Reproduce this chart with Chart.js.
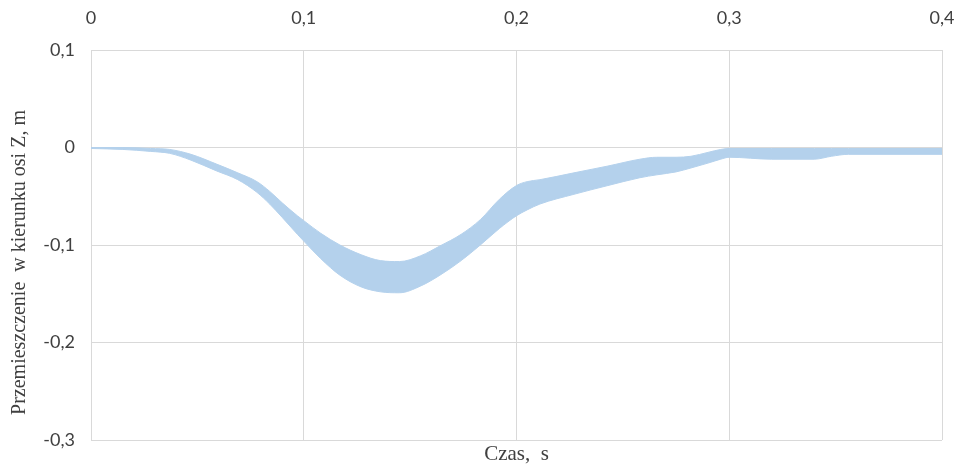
<!DOCTYPE html>
<html>
<head>
<meta charset="utf-8">
<script src="https://cdn.jsdelivr.net/npm/chart.js@4/dist/chart.umd.min.js"></script>
<style>
  html, body { margin: 0; padding: 0; background: #fff; }
  #wrap { width: 958px; height: 467px; }
</style>
</head>
<body>
<div id="wrap"><canvas id="c" width="958" height="467"></canvas></div>
<script>
// Czas, s
const times = [0, 0.015, 0.028, 0.037, 0.047, 0.059, 0.069, 0.078, 0.084, 0.09, 0.097, 0.1, 0.108, 0.117, 0.127, 0.136, 0.145, 0.155, 0.164, 0.174, 0.183, 0.192, 0.2, 0.205, 0.211, 0.227, 0.243, 0.258, 0.266, 0.275, 0.282, 0.29, 0.296, 0.3, 0.32, 0.34, 0.348, 0.356, 0.4];
// górna obwiednia przemieszczenia, m
const upperZ = [0, 0, -0.001, -0.002, -0.007, -0.017, -0.026, -0.035, -0.045, -0.057, -0.070, -0.075, -0.088, -0.100, -0.110, -0.116, -0.117, -0.111, -0.101, -0.089, -0.074, -0.053, -0.039, -0.035, -0.033, -0.026, -0.019, -0.012, -0.010, -0.010, -0.009, -0.005, -0.002, -0.001, -0.001, -0.001, -0.001, -0.001, -0.001];
// dolna obwiednia przemieszczenia, m
const lowerZ = [-0.001, -0.002, -0.004, -0.006, -0.013, -0.024, -0.033, -0.046, -0.058, -0.072, -0.089, -0.096, -0.114, -0.131, -0.143, -0.148, -0.149, -0.142, -0.131, -0.116, -0.100, -0.083, -0.070, -0.064, -0.058, -0.048, -0.039, -0.031, -0.028, -0.025, -0.021, -0.016, -0.012, -0.010, -0.012, -0.012, -0.009, -0.007, -0.007];
const xTicks = [0, 0.1, 0.2, 0.3, 0.4];
const yTicks = [0.1, 0, -0.1, -0.2, -0.3];

const toPts = (ys) => times.map((t, i) => ({ x: t, y: ys[i] }));
const fmt = (v) => String(Math.round(v * 10) / 10).replace('.', ',');

const bandColor = '#b4d1ec';
const gridColor = '#d9d9d9';
const tickFont = { family: 'Lato, "Open Sans", sans-serif', size: 18 };
const titleFont = { family: '"Liberation Serif", "Times New Roman", serif', size: 20 };

new Chart(document.getElementById('c'), {
  type: 'line',
  data: {
    datasets: [
      {
        data: toPts(lowerZ),
        borderColor: bandColor,
        borderWidth: 1,
        pointRadius: 0,
        cubicInterpolationMode: 'monotone',
        fill: false
      },
      {
        data: toPts(upperZ),
        borderColor: bandColor,
        borderWidth: 1,
        backgroundColor: bandColor,
        pointRadius: 0,
        cubicInterpolationMode: 'monotone',
        fill: '-1'
      }
    ]
  },
  options: {
    responsive: false,
    animation: false,
    layout: { padding: { left: 0, right: 16, top: 0, bottom: 0 } },
    plugins: { legend: { display: false }, tooltip: { enabled: false } },
    scales: {
      x: {
        type: 'linear',
        position: 'top',
        min: 0, max: 0.4,
        afterBuildTicks: (s) => { s.ticks = xTicks.map(v => ({ value: v })); },
        afterFit: (s) => { s.height = 50; s.paddingLeft = 0; s.paddingRight = 0; },
        ticks: { padding: 21, color: '#404040', font: tickFont, maxRotation: 0, autoSkip: false, callback: fmt },
        grid: { color: gridColor, lineWidth: 1, drawTicks: false },
        border: { color: gridColor, width: 1 }
      },
      x2: {
        type: 'linear',
        position: 'bottom',
        min: 0, max: 0.4,
        afterFit: (s) => { s.height = 27; s.paddingLeft = 0; s.paddingRight = 0; },
        ticks: { display: false },
        grid: { display: false, drawTicks: false },
        border: { display: false },
        title: { display: true, text: 'Czas,  s', color: '#404040', font: { family: titleFont.family, size: 21 }, padding: { top: 4, bottom: 0 } }
      },
      y: {
        type: 'linear',
        position: 'left',
        min: -0.3, max: 0.1,
        afterBuildTicks: (s) => { s.ticks = yTicks.map(v => ({ value: v })); },
        afterFit: (s) => { s.width = 91; s.paddingTop = 0; s.paddingBottom = 0; },
        ticks: { padding: 16, color: '#404040', font: tickFont, callback: fmt },
        grid: { color: gridColor, lineWidth: 1, drawTicks: false },
        border: { color: gridColor, width: 1 },
        title: { display: true, text: 'Przemieszczenie  w kierunku osi Z, m       ', color: '#404040', font: titleFont, padding: { top: 8, bottom: 0 } }
      }
    }
  }
});
</script>
</body>
</html>
